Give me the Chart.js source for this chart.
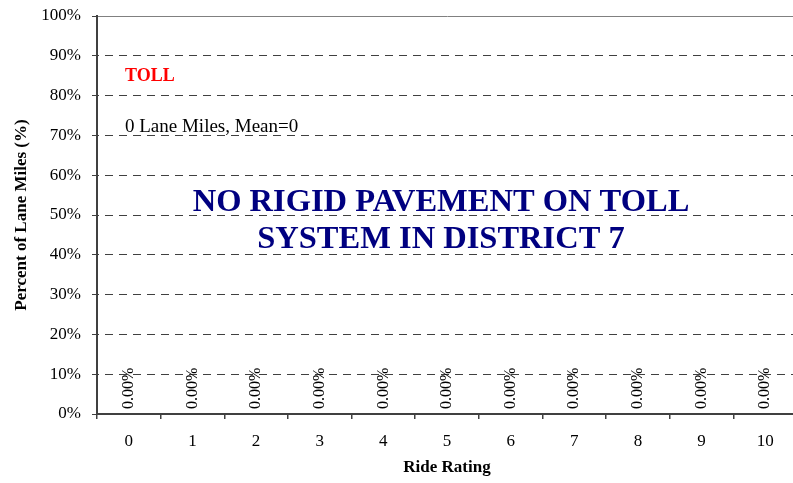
<!DOCTYPE html>
<html>
<head>
<meta charset="utf-8">
<script src="https://cdn.jsdelivr.net/npm/chart.js@4/dist/chart.umd.min.js"></script>
<style>
  html, body { margin: 0; padding: 0; background: #fff; overflow: hidden; }
  canvas { display: block; }
</style>
</head>
<body>
<canvas id="c" width="800" height="483"></canvas>
<script>
// Ride rating categories and share of lane miles in each (percent)
const rideRatings = ['0', '1', '2', '3', '4', '5', '6', '7', '8', '9', '10'];
const percentLaneMiles = [0, 0, 0, 0, 0, 0, 0, 0, 0, 0, 0];
const yTickValues = [0, 10, 20, 30, 40, 50, 60, 70, 80, 90, 100];

const systemName = 'TOLL';
const summaryText = '0 Lane Miles, Mean=0';
const noticeLines = ['NO RIGID PAVEMENT ON TOLL', 'SYSTEM IN DISTRICT 7'];

const serif = '"Liberation Serif", "Times New Roman", serif';

// Rotated value labels sitting on each bar's base
const valueLabels = {
  id: 'valueLabels',
  afterDatasetsDraw(chart) {
    const ctx = chart.ctx;
    const meta = chart.getDatasetMeta(0);
    const yScale = chart.scales.y;
    ctx.save();
    ctx.font = '16px ' + serif;
    ctx.fillStyle = '#000';
    ctx.textAlign = 'left';
    ctx.textBaseline = 'middle';
    meta.data.forEach((bar, i) => {
      const v = chart.data.datasets[0].data[i];
      const base = yScale.getPixelForValue(0);
      const top = Math.min(bar.y, base);
      ctx.save();
      ctx.translate(bar.x, top - 5);
      ctx.rotate(-Math.PI / 2);
      ctx.fillText(v.toFixed(2) + '%', 0, 0);
      ctx.restore();
    });
    ctx.restore();
  }
};

// Text notes placed inside the plot area
const notes = {
  id: 'notes',
  afterDraw(chart) {
    const ctx = chart.ctx;
    const area = chart.chartArea;
    const y = chart.scales.y;
    ctx.save();
    ctx.textBaseline = 'middle';
    ctx.textAlign = 'left';
    ctx.fillStyle = '#ff0000';
    ctx.font = 'bold 18px ' + serif;
    ctx.fillText(systemName, area.left + 28, y.getPixelForValue(84.9));
    ctx.fillStyle = '#000';
    ctx.font = '19px ' + serif;
    ctx.fillText(summaryText, area.left + 28, y.getPixelForValue(72.0));
    ctx.fillStyle = '#000080';
    ctx.font = 'bold 32.5px ' + serif;
    ctx.textAlign = 'center';
    const cx = 441;
    ctx.fillText(noticeLines[0], cx, y.getPixelForValue(53.0));
    ctx.fillText(noticeLines[1], cx, y.getPixelForValue(43.8));
    ctx.restore();
  }
};

new Chart(document.getElementById('c'), {
  type: 'bar',
  data: {
    labels: rideRatings,
    datasets: [{
      data: percentLaneMiles,
      backgroundColor: '#000080',
      borderWidth: 0
    }]
  },
  options: {
    responsive: false,
    animation: false,
    layout: { padding: { left: 0, right: 3, top: 16, bottom: 0 } },
    plugins: {
      legend: { display: false },
      tooltip: { enabled: false },
      title: { display: false }
    },
    scales: {
      x: {
        offset: true,
        afterFit(s) { s.height = 69; },
        grid: {
          offset: true,
          drawOnChartArea: false,
          drawTicks: true,
          tickLength: 5,
          color: '#404040',
          lineWidth: 1.5
        },
        border: { display: true, color: '#404040', width: 2 },
        ticks: {
          color: '#000',
          font: { family: serif, size: 17 },
          padding: 12,
          maxRotation: 0
        },
        title: {
          display: true,
          text: 'Ride Rating',
          color: '#000',
          font: { family: serif, size: 17, weight: 'bold' },
          padding: { top: 4, bottom: 5 }
        }
      },
      y: {
        min: 0,
        max: 100,
        afterFit(s) {
          s.width = 97;
          s.paddingTop = 0;
          s.paddingBottom = 0;
        },
        afterBuildTicks(s) { s.ticks = yTickValues.map(v => ({ value: v })); },
        grid: {
          color: ctx => (ctx.tick && ctx.tick.value === 100) ? '#808080' : '#404040',
          lineWidth: 1,
          tickLength: 5,
          tickBorderDash: [],
          tickColor: '#404040'
        },
        border: {
          display: true,
          color: '#404040',
          width: 2,
          dash: ctx => (ctx.tick && ctx.tick.value === 100) ? [] : [8, 6],
          dashOffset: -7
        },
        ticks: {
          color: '#000',
          font: { family: serif, size: 17 },
          padding: 11,
          callback: v => v + '%'
        },
        title: {
          display: true,
          text: 'Percent of Lane Miles (%)',
          color: '#000',
          font: { family: serif, size: 17, weight: 'bold' },
          padding: { top: 11, bottom: 4 }
        }
      }
    }
  },
  plugins: [valueLabels, notes]
});
</script>
</body>
</html>
